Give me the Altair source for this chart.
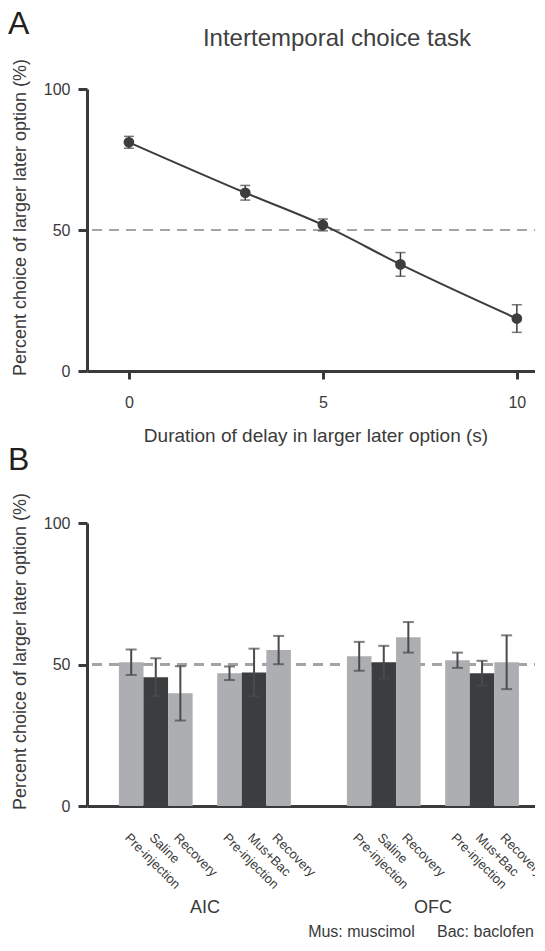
import altair as alt
import pandas as pd

# ---------------- data ----------------
# Panel A: intertemporal choice task
delays = [0, 3, 5, 7, 10]
pct_later = [81.1, 63.2, 51.8, 37.8, 18.6]
pct_sem = [2.1, 2.6, 2.1, 4.2, 4.9]

# Panel B: inactivation experiment
regions = ["AIC"] * 6 + ["OFC"] * 6
injections = (["Saline"] * 3 + ["Mus+Bac"] * 3) * 2
phases = ["Pre-injection", "Treatment", "Recovery"] * 4
cond_labels = ["Pre-injection", "Saline", "Recovery",
               "Pre-injection", "Mus+Bac", "Recovery"] * 2
bar_values = [50.8, 45.5, 39.8, 46.9, 47.2, 55.1,
              52.9, 50.8, 59.6, 51.5, 46.9, 50.8]
bar_sem = [4.5, 6.7, 9.6, 2.4, 8.4, 5.0,
           5.1, 5.8, 5.4, 2.7, 4.4, 9.5]

slot_order = ["Saline|Pre-injection", "Saline|Treatment", "Saline|Recovery", "gap",
              "Mus+Bac|Pre-injection", "Mus+Bac|Treatment", "Mus+Bac|Recovery"]

panel_letters = ["A", "B"]
title_a = ["Intertemporal choice task"]
footnote = ["Mus: muscimol\u00a0\u00a0\u00a0\u00a0\u00a0Bac: baclofen"]

# ---------------- tables ----------------
dfA = pd.DataFrame({"delay": delays, "pct": pct_later, "sem": pct_sem})
dfA["lo"] = dfA["pct"] - dfA["sem"]
dfA["hi"] = dfA["pct"] + dfA["sem"]

dfB = pd.DataFrame({"region": regions, "injection": injections, "phase": phases,
                    "label": cond_labels, "value": bar_values, "sem": bar_sem})
dfB["slot"] = dfB["injection"] + "|" + dfB["phase"]
dfB["lo"] = dfB["value"] - dfB["sem"]
dfB["hi"] = dfB["value"] + dfB["sem"]

# ---------------- style ----------------
FONT = "Liberation Sans"
W = 457
HA = 282
HB = 283
DARK = "#3c3d3f"
LIGHT = "#adaeb1"
DASH = "#a4a4a4"
AX = "#3a3a3a"
TXT = "#3a3a3a"
YTITLE = "Percent choice of larger later option (%)"

yscale = alt.Scale(domain=[0, 100], nice=False)


def y_axis():
    return alt.Axis(values=[0, 50, 100], title=YTITLE, titleY=128, titleFontSize=18,
                    titlePadding=14, labelPadding=8, tickSize=9)


# ---------------- panel A ----------------
xA_scale = alt.Scale(domain=[-1.08, 10.7], nice=False, zero=False)
xA_axis = alt.Axis(values=[0, 5, 10], title="Duration of delay in larger later option (s)",
                   titleFontSize=19, titlePadding=16, labelPadding=15, tickSize=8,
                   labelFlush=False)


def xA(field):
    return alt.X(field, type="quantitative", scale=xA_scale, axis=xA_axis)


def yA(field):
    return alt.Y(field, type="quantitative", scale=yscale, axis=y_axis())


baseA = alt.Chart(dfA)
dashA = baseA.mark_rule(color=DASH, strokeDash=[10, 7], strokeWidth=2).encode(y=alt.datum(50))
errA = baseA.mark_rule(color=DARK, strokeWidth=1.5).encode(x=xA("delay"), y=yA("lo"), y2="hi")
capLoA = baseA.mark_tick(orient="horizontal", color=DARK, size=10, thickness=1.5).encode(
    x=xA("delay"), y=yA("lo"))
capHiA = baseA.mark_tick(orient="horizontal", color=DARK, size=10, thickness=1.5).encode(
    x=xA("delay"), y=yA("hi"))
lineA = baseA.mark_line(color=DARK, strokeWidth=2, interpolate="monotone").encode(
    x=xA("delay"), y=yA("pct"))
ptsA = baseA.mark_point(filled=True, opacity=1, color=DARK, size=115).encode(
    x=xA("delay"), y=yA("pct"))

letterA = alt.Chart(pd.DataFrame({"t": [panel_letters[0]]})).mark_text(
    font=FONT, fontSize=32, color="#231f20", align="left", baseline="alphabetic"
).encode(text="t:N", x=alt.value(-79), y=alt.value(-55))
titleA = alt.Chart(pd.DataFrame({"t": title_a})).mark_text(
    font=FONT, fontSize=24, color="#404040", align="center", baseline="alphabetic"
).encode(text="t:N", x=alt.value(250), y=alt.value(-43))

panelA = alt.layer(dashA, errA, capLoA, capHiA, lineA, ptsA, letterA, titleA).properties(
    width=W, height=HA)

# ---------------- panel B ----------------
xB_scale = alt.Scale(paddingInner=0.2456, paddingOuter=0.125, align=0.56)
xB_axis = alt.Axis(title=None, ticks=False, labelPadding=92, labelFontSize=18, labelAngle=0)
off_scale = alt.Scale(domain=slot_order, paddingInner=0, paddingOuter=0)


def xB():
    return alt.X("region:N", scale=xB_scale, axis=xB_axis)


def offB():
    return alt.XOffset("slot:N", scale=off_scale)


def yB(field):
    return alt.Y(field, type="quantitative", scale=yscale, axis=y_axis())


baseB = alt.Chart(dfB)
dashB = baseB.mark_rule(color=DASH, strokeDash=[10, 7], strokeWidth=2).encode(y=alt.datum(50))
barsB = baseB.mark_bar().encode(
    x=xB(), xOffset=offB(), y=yB("value"),
    color=alt.Color("phase:N", scale=alt.Scale(domain=["Pre-injection", "Treatment", "Recovery"],
                                                range=[LIGHT, DARK, LIGHT]), legend=None))
errB = baseB.mark_rule(color="#4a4a4a", strokeWidth=2).encode(
    x=xB(), xOffset=offB(), y=yB("lo"), y2="hi")
capLoB = baseB.mark_tick(orient="horizontal", color="#4a4a4a", size=11, thickness=2).encode(
    x=xB(), xOffset=offB(), y=yB("lo"))
capHiB = baseB.mark_tick(orient="horizontal", color="#4a4a4a", size=11, thickness=2).encode(
    x=xB(), xOffset=offB(), y=yB("hi"))
labelsB = baseB.mark_text(font=FONT, fontSize=13, color=TXT, angle=45, align="left",
                          baseline="middle", dx=-6).encode(
    x=xB(), xOffset=offB(), y=alt.value(317), text="label:N")

letterB = alt.Chart(pd.DataFrame({"t": [panel_letters[1]]})).mark_text(
    font=FONT, fontSize=32, color="#231f20", align="left", baseline="alphabetic"
).encode(text="t:N", x=alt.value(-79), y=alt.value(-53))
noteB = alt.Chart(pd.DataFrame({"t": footnote})).mark_text(
    font=FONT, fontSize=16, color=TXT, align="right", baseline="alphabetic"
).encode(text="t:N", x=alt.value(W - 10), y=alt.value(414))

panelB = alt.layer(dashB, barsB, errB, capLoB, capHiB, labelsB, letterB, noteB).properties(
    width=W, height=HB)

chart = alt.vconcat(panelA, panelB, spacing=152, bounds="flush").properties(
    padding={"left": 0, "top": 0, "right": -11, "bottom": 0}
).configure_view(stroke=None).configure_axis(
    domainColor=AX, domainWidth=3, tickColor=AX, tickWidth=3,
    labelFont=FONT, labelFontSize=16, labelColor=TXT,
    titleFont=FONT, titleFontWeight="normal", titleColor=TXT, grid=False
).configure_text(font=FONT)

chart.save("out.html", embed_options={"renderer": "svg", "actions": False})
